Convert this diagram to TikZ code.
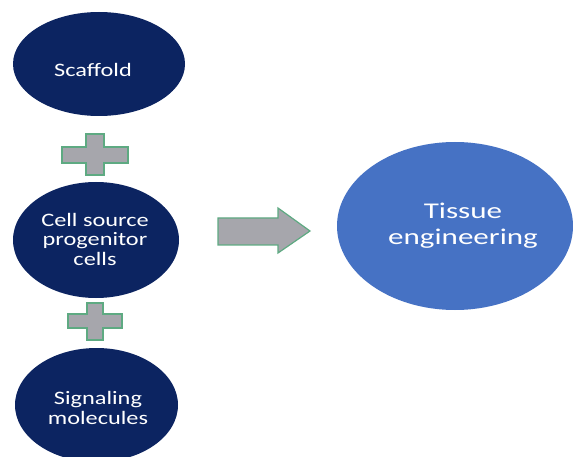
\documentclass[tikz,border=0pt]{standalone}
\usepackage{fontspec}
\setmainfont{Carlito}
\newfontfamily\smallwide[FakeStretch=1.28]{Carlito}
\newfontfamily\bigwide[FakeStretch=1.38]{Carlito}
\usetikzlibrary{shapes.geometric}
\definecolor{navy}{RGB}{12,36,97}
\definecolor{tblue}{RGB}{70,114,196}
\definecolor{plusgray}{RGB}{166,166,172}
\definecolor{plusgreen}{RGB}{94,170,130}
\tikzset{
  blob/.style={ellipse, draw=none, fill=navy, inner sep=0pt},
  bigblob/.style={ellipse, draw=none, fill=tblue, inner sep=0pt},
  smalltext/.style={text=white, align=center, inner sep=0pt, font=\smallwide\fontsize{19}{19.5}\selectfont},
  bigtext/.style={text=white, align=center, inner sep=0pt, font=\bigwide\fontsize{22.5}{26}\selectfont},
  plusshape/.style={fill=plusgray, draw=plusgreen, line width=1.2pt, line join=miter}
}
\begin{document}
\begin{tikzpicture}[x=1pt,y=-1pt]
\useasboundingbox (0,0) rectangle (573,457);
% ellipses
\node[blob, minimum width=172pt, minimum height=104pt] (scaf) at (99,64) {};
\node[blob, minimum width=166pt, minimum height=116pt] (cell) at (96,240) {};
\node[blob, minimum width=163pt, minimum height=114pt] (sig) at (96.5,405) {};
\node[bigblob, minimum width=236pt, minimum height=168pt] (tis) at (455,226) {};
% texts
\node[smalltext] (scaft) at (93,69.5) {Scaffold};
\node[smalltext] (cellt) at (95,239) {Cell source\\progenitor\\cells};
\node[smalltext] (sigt) at (98,408) {Signaling\\molecules};
\node[bigtext] (tist) at (463,225.5) {Tissue\\engineering};
% plus signs
\draw[plusshape] (86,134) -- (104,134) -- (104,147) -- (128,147) -- (128,163) -- (104,163)
  -- (104,175) -- (86,175) -- (86,163) -- (62,163) -- (62,147) -- (86,147) -- cycle;
\draw[plusshape] (87,303) -- (103,303) -- (103,314) -- (122,314) -- (122,328) -- (103,328)
  -- (103,340) -- (87,340) -- (87,328) -- (68,328) -- (68,314) -- (87,314) -- cycle;
% arrow
\draw[plusshape] (218,218) -- (278,218) -- (278,208) -- (310,231) -- (278,253)
  -- (278,245) -- (218,245) -- cycle;
\end{tikzpicture}
\end{document}
